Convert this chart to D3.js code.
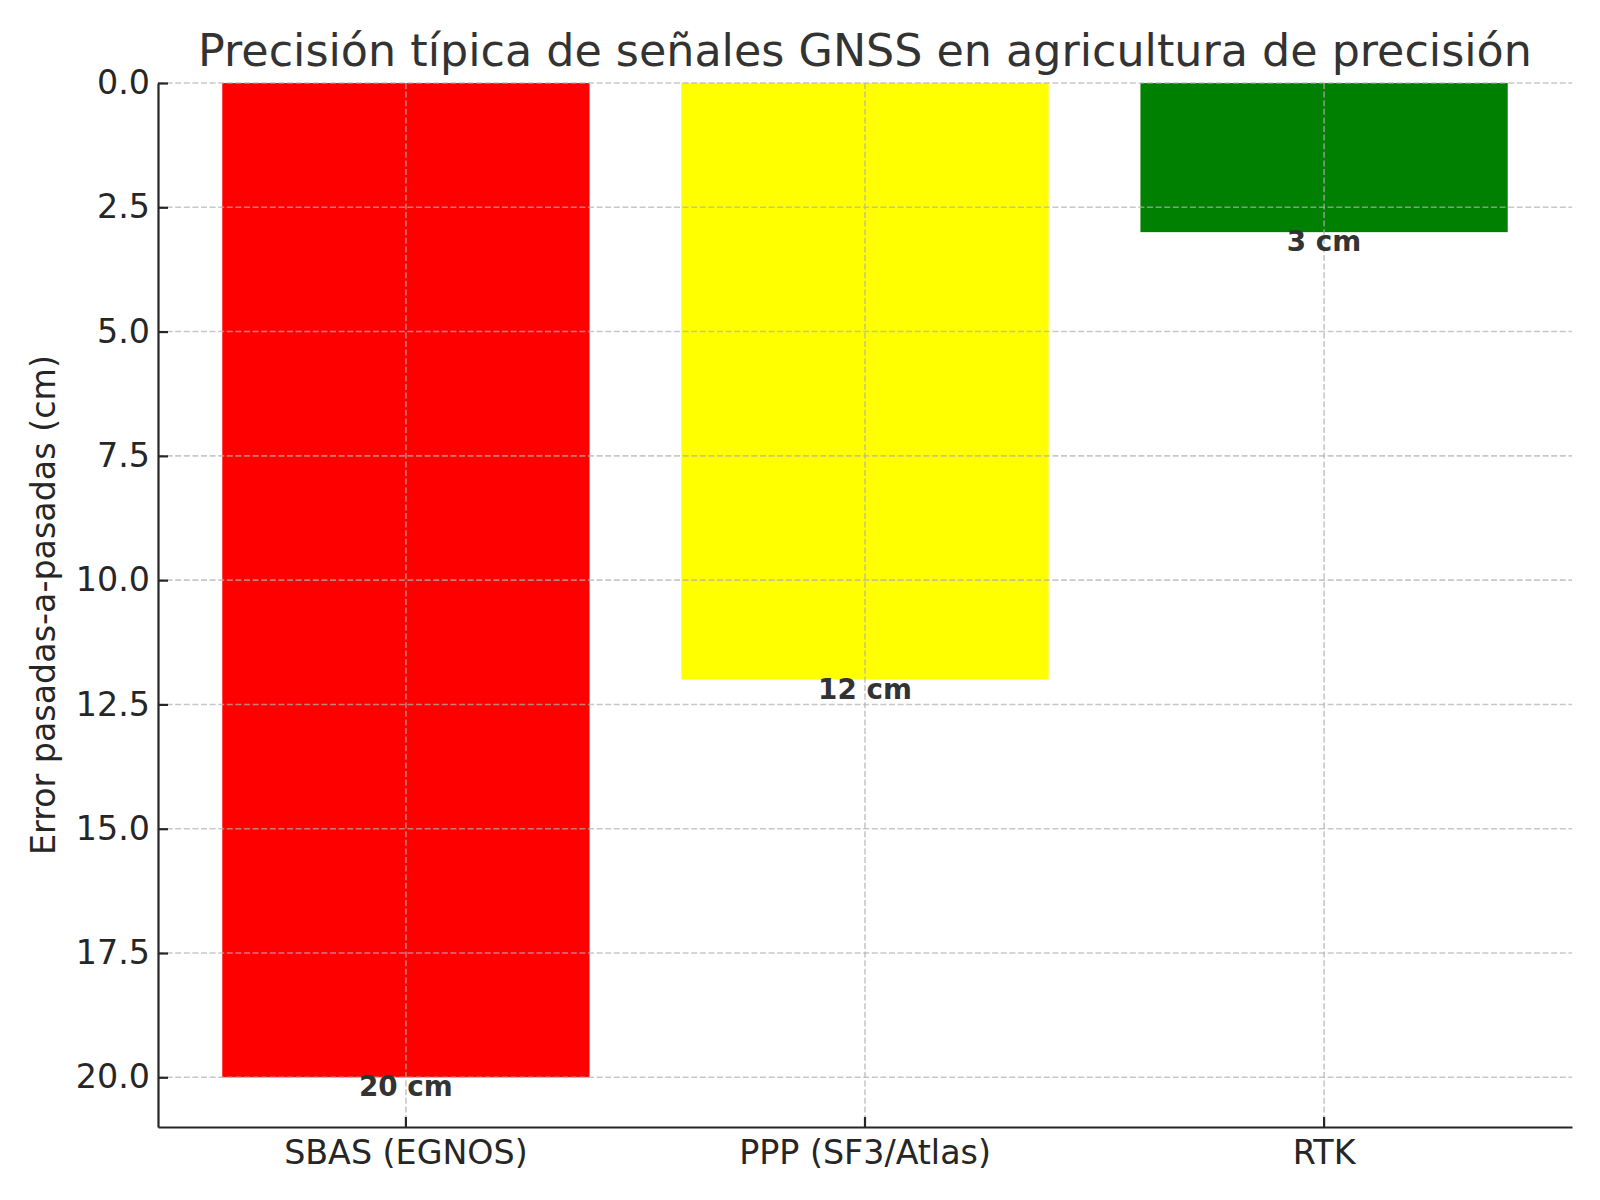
<!DOCTYPE html>
<html lang="es">
<head>
<meta charset="utf-8">
<title>Precisión GNSS</title>
<script src="https://cdn.jsdelivr.net/npm/d3@7"></script>
<style>
  body { margin: 0; background: #fff; }
  text { font-family: "DejaVu Sans", sans-serif; }
</style>
</head>
<body>
<script>
// datos
var categories = ["SBAS (EGNOS)", "PPP (SF3/Atlas)", "RTK"];
var errorsCm = [20, 12, 3];
var barColors = ["#ff0000", "#ffff00", "#008000"];
var yTicks = [0, 2.5, 5, 7.5, 10, 12.5, 15, 17.5, 20];

var W = 1600, H = 1200;
// plot area (no usar "top": choca con window.top)
var pLeft = 158, pRight = 1572, pTop = 83, pBottom = 1127;

var svg = d3.select("body").append("svg")
  .attr("width", W)
  .attr("height", H);

var x = d3.scaleBand()
  .domain(categories)
  .range([pLeft, pRight])
  .paddingInner(0.2)
  .paddingOuter(0.14);

// eje invertido: 0 arriba
var y = d3.scaleLinear()
  .domain([0, 21])
  .range([pTop, pBottom]);

// barras
svg.selectAll("rect.bar")
  .data(categories)
  .enter()
  .append("rect")
  .attr("class", "bar")
  .attr("x", function(d) { return x(d); })
  .attr("y", y(0))
  .attr("width", x.bandwidth())
  .attr("height", function(d, i) { return y(errorsCm[i]) - y(0); })
  .attr("fill", function(d, i) { return barColors[i]; });

// rejilla (por encima de las barras, como en matplotlib)
var grid = svg.append("g")
  .attr("stroke", "#b0b0b0")
  .attr("stroke-opacity", 0.7)
  .attr("stroke-width", 1.6)
  .attr("stroke-dasharray", "6,2.6");

grid.selectAll("line.h")
  .data(yTicks)
  .enter()
  .append("line")
  .attr("class", "h")
  .attr("x1", pLeft).attr("x2", pRight)
  .attr("y1", function(d) { return y(d); })
  .attr("y2", function(d) { return y(d); });

grid.selectAll("line.v")
  .data(categories)
  .enter()
  .append("line")
  .attr("class", "v")
  .attr("x1", function(d) { return x(d) + x.bandwidth() / 2; })
  .attr("x2", function(d) { return x(d) + x.bandwidth() / 2; })
  .attr("y1", pTop).attr("y2", pBottom);

// etiquetas de valor
svg.selectAll("text.val")
  .data(categories)
  .enter()
  .append("text")
  .attr("class", "val")
  .attr("x", function(d) { return x(d) + x.bandwidth() / 2; })
  .attr("y", function(d, i) { return y(errorsCm[i] + 0.2); })
  .attr("dy", "0.33em")
  .attr("text-anchor", "middle")
  .attr("font-size", "27.8px")
  .attr("font-weight", "bold")
  .attr("fill", "#333333")
  .text(function(d, i) { return errorsCm[i] + " cm"; });

// ejes
var yAxis = svg.append("g")
  .attr("transform", "translate(" + pLeft + ",0)")
  .call(d3.axisLeft(y)
    .tickValues(yTicks)
    .tickFormat(d3.format(".1f"))
    .tickSizeInner(-10)
    .tickSizeOuter(0)
    .tickPadding(8));

var xAxis = svg.append("g")
  .attr("transform", "translate(0," + pBottom + ")")
  .call(d3.axisBottom(x)
    .tickSizeInner(-10)
    .tickSizeOuter(0)
    .tickPadding(13));

[yAxis, xAxis].forEach(function(a) {
  a.select(".domain").attr("stroke", "#262626").attr("stroke-width", 2.2);
  a.selectAll(".tick line").attr("stroke", "#262626").attr("stroke-width", 2.2);
  a.selectAll(".tick text")
    .attr("font-size", "33.3px")
    .attr("font-family", "DejaVu Sans, sans-serif")
    .attr("fill", "#262626");
});

// titulo
svg.append("text")
  .attr("x", (pLeft + pRight) / 2)
  .attr("y", 66)
  .attr("text-anchor", "middle")
  .attr("font-size", "44.4px")
  .attr("fill", "#333333")
  .text("Precisión típica de señales GNSS en agricultura de precisión");

// titulo del eje y
svg.append("text")
  .attr("transform", "translate(55," + (pTop + pBottom) / 2 + ") rotate(-90)")
  .attr("text-anchor", "middle")
  .attr("font-size", "33.3px")
  .attr("fill", "#262626")
  .text("Error pasadas-a-pasadas (cm)");
</script>
</body>
</html>
